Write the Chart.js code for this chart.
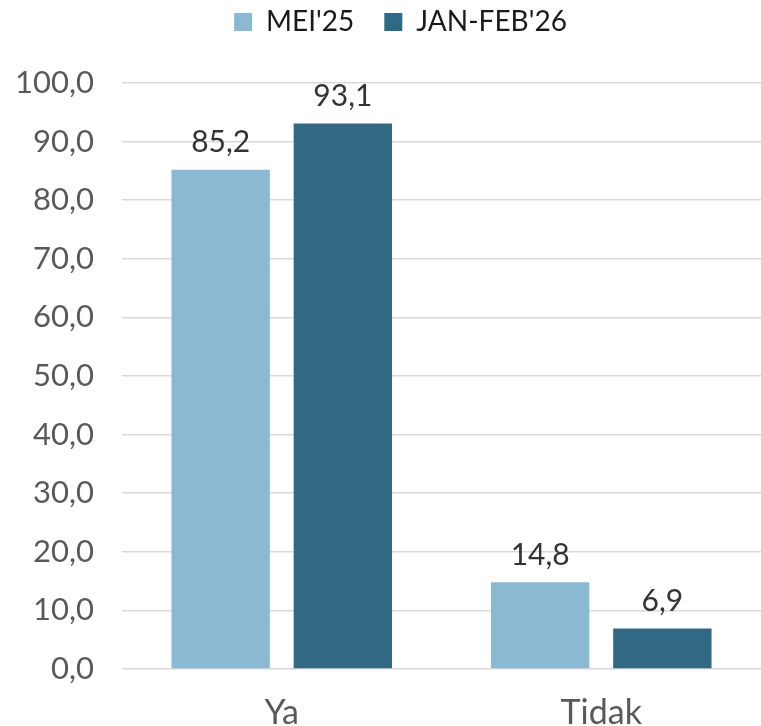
<!DOCTYPE html>
<html>
<head>
<meta charset="utf-8">
<script src="https://cdn.jsdelivr.net/npm/chart.js@4"></script>
<style>
  html, body { margin: 0; padding: 0; background: #fff; }
  #wrap { width: 761px; height: 726px; }
</style>
</head>
<body>
<div id="wrap"><canvas id="chart"></canvas></div>
<script>
// Kategori jawaban dan nilai per periode (persen)
const categories = ['Ya', 'Tidak'];
const seriesNames = ["MEI'25", "JAN-FEB'26"];
const valuesMei25 = [85.2, 14.8];
const valuesJanFeb26 = [93.1, 6.9];
const yTicks = [0, 10, 20, 30, 40, 50, 60, 70, 80, 90, 100];

const fontFamily = "Lato, 'Open Sans', sans-serif";

function formatKoma(v) {
    return v.toFixed(1).replace('.', ',');
}

// Tulis nilai di atas setiap batang
const labelBatang = {
    id: 'labelBatang',
    afterDatasetsDraw(chart) {
        const ctx = chart.ctx;
        ctx.save();
        ctx.font = '30px ' + fontFamily;
        ctx.fillStyle = '#333333';
        ctx.textAlign = 'center';
        ctx.textBaseline = 'middle';
        chart.data.datasets.forEach((ds, i) => {
            chart.getDatasetMeta(i).data.forEach((bar, j) => {
                ctx.fillText(formatKoma(ds.data[j]), bar.x, bar.y - 27);
            });
        });
        ctx.restore();
    }
};

// Tinggi legenda dibuat tetap, lalu legenda digeser sedikit ke kanan
const aturLegenda = {
    id: 'aturLegenda',
    beforeInit(chart) {
        const fit = chart.legend.fit;
        chart.legend.fit = function () {
            fit.bind(chart.legend)();
            this.height = 105;
        };
    },
    afterLayout(chart) {
        chart.legend.left += 18;
        chart.legend.right += 18;
    }
};

new Chart(document.getElementById('chart'), {
    type: 'bar',
    data: {
        labels: categories,
        datasets: [{
            label: seriesNames[0],
            data: valuesMei25,
            backgroundColor: '#8BB9D4'
        }, {
            label: seriesNames[1],
            data: valuesJanFeb26,
            backgroundColor: '#316884'
        }]
    },
    options: {
        responsive: true,
        maintainAspectRatio: false,
        animation: false,
        layout: { padding: { top: -22, left: 0, right: -4, bottom: 0 } },
        datasets: {
            bar: { categoryPercentage: 0.765, barPercentage: 0.805 }
        },
        plugins: {
            legend: {
                position: 'top',
                labels: {
                    boxWidth: 18,
                    boxHeight: 18,
                    padding: 30,
                    color: '#1a1a1a',
                    font: { family: fontFamily, size: 28 }
                }
            },
            tooltip: { enabled: false }
        },
        scales: {
            x: {
                afterFit(scale) {
                    scale.height = 57;
                },
                grid: { display: false },
                border: { display: false },
                ticks: {
                    color: '#595959',
                    padding: 16,
                    font: { family: fontFamily, size: 34 }
                }
            },
            y: {
                min: 0,
                max: 100,
                afterBuildTicks(scale) {
                    scale.ticks = yTicks.map(v => ({ value: v }));
                },
                afterFit(scale) {
                    scale.width = 122;
                },
                grid: { color: '#D9D9D9', lineWidth: 1.5, drawTicks: false },
                border: { display: false },
                ticks: {
                    color: '#595959',
                    padding: 28,
                    font: { family: fontFamily, size: 31 },
                    callback: v => formatKoma(v)
                }
            }
        }
    },
    plugins: [labelBatang, aturLegenda]
});
</script>
</body>
</html>
